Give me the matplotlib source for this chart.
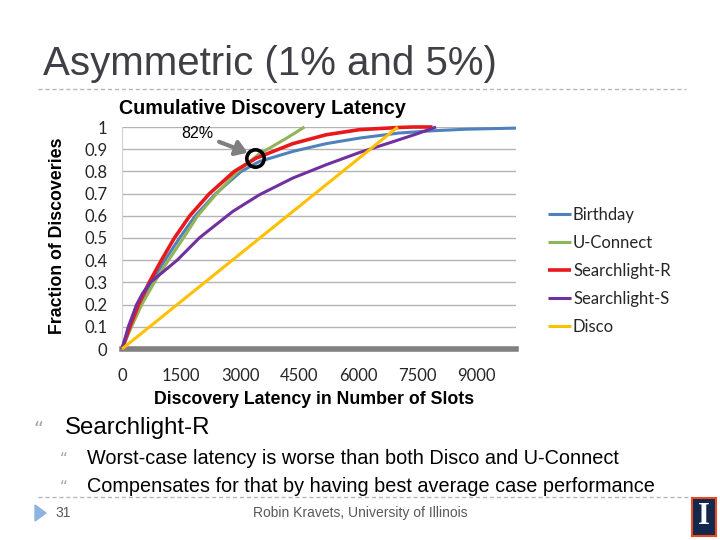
import numpy as np
import matplotlib.pyplot as plt
from matplotlib.patches import Rectangle, Polygon

# curves (slots, fraction discovered)
birthday_x = [0, 220, 450, 740, 1090, 1460, 1860, 2380, 3026, 3491, 4335, 5182, 6026, 7039, 7884, 8730, 10000]
birthday_y = [0, 0.1, 0.2, 0.3, 0.4, 0.5, 0.6, 0.7, 0.8, 0.845, 0.89, 0.925, 0.95, 0.973, 0.983, 0.99, 0.995]

uconnect_x = [0, 240, 500, 820, 1180, 1560, 1920, 2400, 2941, 3491, 3744, 4180, 4632]
uconnect_y = [0, 0.1, 0.2, 0.3, 0.4, 0.5, 0.6, 0.7, 0.8, 0.88, 0.905, 0.95, 1.0]

slr_x = [0, 200, 420, 690, 1000, 1330, 1720, 2220, 2850, 3407, 4335, 5182, 6026, 7039, 7400, 7880]
slr_y = [0, 0.1, 0.2, 0.3, 0.4, 0.5, 0.6, 0.7, 0.8, 0.86, 0.925, 0.965, 0.988, 0.998, 1.0, 1.0]

sls_x = [0, 160, 370, 520, 720, 1060, 1400, 1960, 2100, 2814, 3491, 4335, 5182, 6026, 6900, 7500, 7970]
sls_y = [0, 0.1, 0.2, 0.25, 0.3, 0.35, 0.4, 0.5, 0.52, 0.62, 0.695, 0.77, 0.83, 0.885, 0.935, 0.97, 1.0]

disco_x = [0, 7000]
disco_y = [0, 1.0]

labels = ['Birthday', 'U-Connect', 'Searchlight-R', 'Searchlight-S', 'Disco']
colors = ['#4f81bd', '#8fb45a', '#e8191d', '#7030a0', '#ffc000']
xticks = [0, 1500, 3000, 4500, 6000, 7500, 9000]
yticks = [0, 0.1, 0.2, 0.3, 0.4, 0.5, 0.6, 0.7, 0.8, 0.9, 1]

fig = plt.figure(figsize=(7.2, 5.4), dpi=100)
fig.patch.set_facecolor('white')

# slide title + dashed rules
fig.text(43/720, 1-64/540, 'Asymmetric (1% and 5%)', fontsize=29, color='#3f3f45',
         family='Liberation Sans', va='center', ha='left')
fig.add_artist(plt.Line2D([38/720, 686/720], [1-89/540]*2, color='#b8b8b8', lw=1, ls=(0, (3, 2))))
fig.add_artist(plt.Line2D([38/720, 690/720], [1-497/540]*2, color='#b8b8b8', lw=1, ls=(0, (3, 2))))

ax = fig.add_axes([122/720, 1-349/540, 394/720, 222/540])
data = [(birthday_x, birthday_y), (uconnect_x, uconnect_y), (slr_x, slr_y),
        (sls_x, sls_y), (disco_x, disco_y)]
for (xs, ys), lab, c in zip(data, labels, colors):
    lw = 2.6 if lab == 'Searchlight-R' else 2.2
    ax.plot(xs, ys, color=c, lw=lw, label=lab, clip_on=False, solid_capstyle='butt',
            solid_joinstyle='round', zorder=3)

ax.set_xlim(0, 10000)
ax.set_ylim(0, 1)
ax.set_xticks(xticks)
ax.set_yticks(yticks)
ax.set_yticklabels(['0', '0.1', '0.2', '0.3', '0.4', '0.5', '0.6', '0.7', '0.8', '0.9', '1'])
ax.tick_params(length=0, labelsize=12, colors='#262626')
ax.tick_params(axis='x', pad=14)
ax.tick_params(axis='y', pad=10.5)
for t in ax.get_xticklabels() + ax.get_yticklabels():
    t.set_family('Lato')
ax.grid(axis='y', color='#b4b4b4', lw=1)
ax.set_axisbelow(True)
for s in ['top', 'right']:
    ax.spines[s].set_visible(False)
ax.spines['left'].set_color('#d0d0d0')
ax.spines['bottom'].set_color('#808080')
ax.spines['bottom'].set_linewidth(4)

# annotation: 82% arrow and circle
ax.plot([3369], [0.862], marker='o', ms=12.5, mfc='none', mec='black', mew=2.6, zorder=5, clip_on=False)
ax.annotate('82%', xy=(3190, 0.884), xytext=(1920, 0.97), fontsize=11.5,
            family='Liberation Sans', ha='center', va='center', annotation_clip=False,
            arrowprops=dict(arrowstyle='-|>,head_length=0.6,head_width=0.4', color='#7f7f7f',
                            lw=3, shrinkA=2, shrinkB=0))

fig.text(262/720, 1-108/540, 'Cumulative Discovery Latency', fontsize=14.2, fontweight='bold',
         family='Liberation Sans', ha='center', va='center')
fig.text(314/720, 1-399/540, 'Discovery Latency in Number of Slots', fontsize=12.8, fontweight='bold',
         family='Liberation Sans', ha='center', va='center')
fig.text(58/720, 1-236/540, 'Fraction of Discoveries', fontsize=12.8, fontweight='bold',
         family='Liberation Sans', ha='center', va='center', rotation=90)

# legend
leg = fig.legend(loc='upper left', bbox_to_anchor=(533/720, 1-192/540), frameon=False,
                 handlelength=1.4, handletextpad=0.1, labelspacing=0.72,
                 prop={'family': 'Lato', 'size': 12})
for t in leg.get_texts():
    t.set_color('#262626')

# bullets
fig.text(33/720, 1-429/540, '\u201c', fontsize=14, color='#a6a6a6', va='center')
fig.text(65/720, 1-428/540, 'Searchlight-R', fontsize=17.3, family='Liberation Sans', va='center')
fig.text(60/720, 1-459/540, '\u201c', fontsize=11, color='#a6a6a6', va='center')
fig.text(87/720, 1-458/540, 'Worst-case latency is worse than both Disco and U-Connect',
         fontsize=14.3, family='Liberation Sans', va='center')
fig.text(60/720, 1-488/540, '\u201c', fontsize=11, color='#a6a6a6', va='center')
fig.text(87/720, 1-487/540, 'Compensates for that by having best average case performance',
         fontsize=14.3, family='Liberation Sans', va='center')

# footer
fig.add_artist(Polygon([[35/720, 1-505/540], [35/720, 1-521/540], [46/720, 1-513/540]],
                       closed=True, color='#8db3e2'))
fig.text(55/720, 1-513/540, '31', fontsize=10, color='#595959', va='center', family='Liberation Sans')
fig.text(360/720, 1-513/540, 'Robin Kravets, University of Illinois', fontsize=10,
         color='#595959', va='center', ha='center', family='Liberation Sans')
fig.add_artist(Rectangle((692/720, 1-536/540), 24/720, 38/540, facecolor='#13294b',
                         edgecolor='#e84a27', lw=1.5))
fig.text(704/720, 1-517/540, 'I', fontsize=22, color='white', fontweight='bold',
         family='Liberation Serif', ha='center', va='center')

fig.savefig('out.png', dpi=100, facecolor='white')
